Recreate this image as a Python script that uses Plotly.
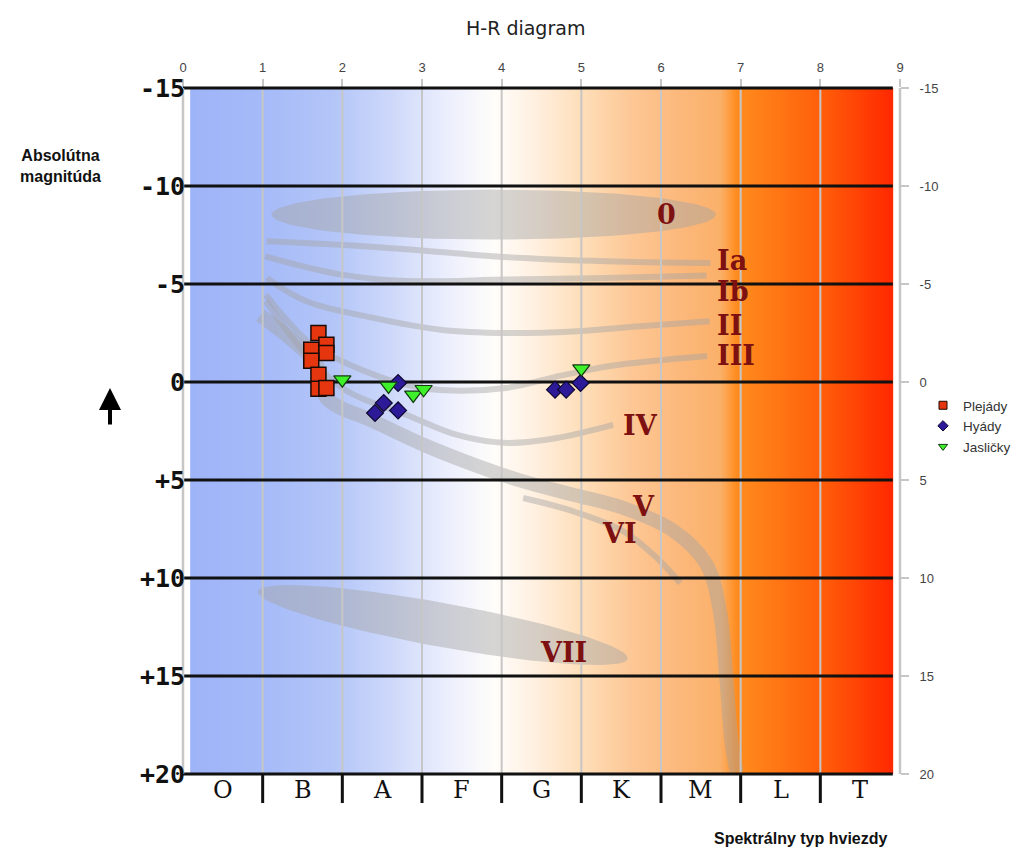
import numpy as np
import plotly.graph_objects as go

# ---------------- data ----------------
plejady_x = [1.70, 1.61, 1.80, 1.80, 1.61, 1.70, 1.70, 1.80]
plejady_y = [-2.50, -1.65, -1.90, -1.48, -1.09, -0.37, 0.34, 0.31]
hyady_x = [2.70, 2.52, 2.41, 2.70, 4.67, 4.81, 4.99]
hyady_y = [0.05, 1.07, 1.58, 1.45, 0.39, 0.39, 0.05]
jaslicky_x = [2.00, 2.58, 2.89, 3.02, 5.00]
jaslicky_y = [-0.12, 0.20, 0.66, 0.37, -0.68]

spectral_classes = ["O", "B", "A", "F", "G", "K", "M", "L", "T"]
x_tick_vals = [0, 1, 2, 3, 4, 5, 6, 7, 8, 9]
y_tick_vals = [-15, -10, -5, 0, 5, 10, 15, 20]
y_tick_text = ["-15", "-10", "-5", "0", "5", "10", "15", "20"]
y_big_text = ["-15", "-10", "-5", "0", "+5", "+10", "+15", "+20"]

# luminosity-class bands of the background drawing
lum_Ia_x = [1.05, 1.97, 2.89, 3.94, 5.32, 6.62]
lum_Ia_y = [-7.18, -7.00, -6.75, -6.40, -6.16, -6.07]
lum_Ib_x = [1.03, 1.97, 2.81, 4.06, 5.32, 6.57]
lum_Ib_y = [-6.41, -5.49, -5.15, -5.23, -5.31, -5.43]
lum_II_x = [1.05, 1.55, 2.39, 3.23, 4.06, 4.90, 5.74, 6.61]
lum_II_y = [-5.31, -4.12, -3.27, -2.67, -2.50, -2.58, -2.84, -3.10]
lum_III_x = [1.04, 1.59, 2.10, 2.72, 3.23, 4.05, 4.73, 5.36, 6.58]
lum_III_y = [-4.44, -1.99, -0.87, 0.05, 0.41, 0.31, -0.31, -0.82, -1.33]
lum_IV_x = [1.04, 1.53, 2.06, 2.81, 3.44, 4.07, 4.69, 5.40]
lum_IV_y = [-4.13, -1.48, 0.46, 1.68, 2.70, 3.11, 2.86, 2.19]
lum_V_x = [0.97, 1.34, 1.68, 1.80, 2.39, 3.02, 3.64, 4.27, 4.90, 5.53, 6.16, 6.57, 6.74, 6.82, 6.89, 6.95]
lum_V_y = [-3.40, -2.24, -0.88, 0.82, 2.00, 3.20, 4.20, 5.07, 5.75, 6.43, 7.60, 9.30, 11.70, 15.10, 18.50, 19.90]
lum_VI_x = [4.27, 4.90, 5.53, 5.95, 6.24]
lum_VI_y = [5.92, 6.60, 7.62, 8.98, 10.26]

# ellipses: centre x, centre y (data), semi-axes (px), tilt (deg)
ell_0 = dict(cx=3.90, cy=-8.54, a=222, b=25, tilt=0)
ell_VII = dict(cx=3.26, cy=12.40, a=188, b=22, tilt=10.3)

lum_labels = ["0", "Ia", "Ib", "II", "III", "IV", "V", "VI", "VII"]
lum_label_x = [5.93, 6.68, 6.68, 6.68, 6.68, 5.50, 5.61, 5.24, 4.46]
lum_label_y = [-8.57, -6.22, -4.60, -2.90, -1.33, 2.24, 6.34, 7.74, 13.78]

# background colour gradient along spectral axis
grad_pos = [0.09, 1.0, 1.9, 2.6, 3.3, 3.9, 4.4, 5.0, 5.6, 6.2, 6.75, 6.95, 8.0, 8.91]
grad_col = ["#9eb4f8", "#a5baf8", "#b4c6f8", "#cdd8fa", "#ebeefd", "#fffdfa", "#fff0e1",
            "#fedeb9", "#fdc896", "#fcb97d", "#fab069", "#ff8c1e", "#ff5f0a", "#ff2800"]

# ---------------- geometry ----------------
OFF = 8                       # page body margin
W, H = 1014, 840
ML, MR, MT, MB = 175, 122, 80, 74
PW, PH = W - ML - MR, H - MT - MB
X0, X1 = 0, 9
YTOP, YBOT = -15, 20
PX_X = PW / (X1 - X0)
PX_Y = PH / (YBOT - YTOP)


def page_x(px):
    return (px - OFF - ML) / PW


def page_y(py):
    return (PH + MT + OFF - py) / PH


fig = go.Figure()

# background gradient
gx = np.linspace(grad_pos[0], grad_pos[-1], 353)
gz = [list((gx[:-1] + gx[1:]) / 2)]
lo, hi = grad_pos[0], grad_pos[-1]
cscale = [[(p - lo) / (hi - lo), c] for p, c in zip(grad_pos, grad_col)]
fig.add_trace(go.Heatmap(x=gx, y=[YTOP, YBOT], z=gz, colorscale=cscale, zmin=lo, zmax=hi,
                         showscale=False, hoverinfo="skip", zsmooth=False))

BAND = "rgba(165,165,165,0.45)"


def ellipse(e):
    t = np.linspace(0, 2 * np.pi, 120)
    th = np.radians(e["tilt"])
    dx = e["a"] * np.cos(t) * np.cos(th) - e["b"] * np.sin(t) * np.sin(th)
    dy = e["a"] * np.cos(t) * np.sin(th) + e["b"] * np.sin(t) * np.cos(th)
    return e["cx"] + dx / PX_X, e["cy"] + dy / PX_Y


for e in (ell_0, ell_VII):
    ex, ey = ellipse(e)
    fig.add_trace(go.Scatter(x=ex, y=ey, mode="lines", fill="toself", fillcolor=BAND,
                             line=dict(width=0, color=BAND), hoverinfo="skip", showlegend=False))

for bx, by, w in [(lum_Ia_x, lum_Ia_y, 6), (lum_Ib_x, lum_Ib_y, 6), (lum_II_x, lum_II_y, 6),
                  (lum_III_x, lum_III_y, 6), (lum_IV_x, lum_IV_y, 6), (lum_V_x, lum_V_y, 14),
                  (lum_VI_x, lum_VI_y, 6)]:
    fig.add_trace(go.Scatter(x=bx, y=by, mode="lines", line=dict(color=BAND, width=w, shape="spline"),
                             hoverinfo="skip", showlegend=False))

# vertical grey grid lines
vx, vy = [], []
for v in x_tick_vals[1:-1]:
    vx += [v, v, None]
    vy += [YTOP, YBOT, None]
fig.add_trace(go.Scatter(x=vx, y=vy, mode="lines", line=dict(color="#c6c6c6", width=2),
                         hoverinfo="skip", showlegend=False))

# black horizontal lines (interior)
hx, hy = [], []
for v in y_tick_vals[1:-1]:
    hx += [X0, grad_pos[-1], None]
    hy += [v, v, None]
fig.add_trace(go.Scatter(x=hx, y=hy, mode="lines", line=dict(color="#111111", width=3),
                         hoverinfo="skip", showlegend=False))

# data series
fig.add_trace(go.Scatter(x=plejady_x, y=plejady_y, mode="markers", name="Plejády", showlegend=False,
                         marker=dict(symbol="square", size=15, color="#e5360f",
                                     line=dict(color="#1a0a05", width=1.5))))
fig.add_trace(go.Scatter(x=hyady_x, y=hyady_y, mode="markers", name="Hyády", showlegend=False,
                         marker=dict(symbol="diamond", size=13, color="#2c1a98",
                                     line=dict(color="#0d0830", width=1.2))))
fig.add_trace(go.Scatter(x=jaslicky_x, y=jaslicky_y, mode="markers", name="Jasličky", showlegend=False,
                         marker=dict(symbol="triangle-down", size=15, color="#3df02a",
                                     line=dict(color="#123a10", width=1.2))))

# legend entries (small symbols)
for nm, sym, col, lc in [("Plejády", "square", "#e5360f", "#1a0a05"),
                         ("Hyády", "diamond", "#2c1a98", "#0d0830"),
                         ("Jasličky", "triangle-down", "#3df02a", "#123a10")]:
    fig.add_trace(go.Scatter(x=[None], y=[None], mode="markers", name=nm,
                             marker=dict(symbol=sym, size=8, color=col, line=dict(color=lc, width=1))))

shapes = []
# boundary black lines (top / bottom)
for yp in (0, 1):
    shapes.append(dict(type="line", xref="paper", yref="paper", x0=0.0, x1=(grad_pos[-1] - X0) / (X1 - X0),
                       y0=yp, y1=yp, line=dict(color="#111111", width=3), layer="above"))
# left/right grey frame lines
for xp in (0, 1):
    shapes.append(dict(type="line", xref="paper", yref="paper", x0=xp, x1=xp, y0=0, y1=1,
                       line=dict(color="#c6c6c6", width=2.5), layer="above"))
# spectral class separators below the plot
for v in x_tick_vals[1:-1]:
    shapes.append(dict(type="line", xref="x", yref="paper", x0=v, x1=v, y0=0, y1=-29 / PH,
                       line=dict(color="#111111", width=3), layer="above"))

annotations = []
for i, s in enumerate(spectral_classes):
    annotations.append(dict(x=i + 0.5, y=-16 / PH, xref="x", yref="paper", text=s, showarrow=False,
                            font=dict(family="DejaVu Serif", size=24, color="#111111"),
                            xanchor="center", yanchor="middle"))
for v, t in zip(y_tick_vals, y_big_text):
    annotations.append(dict(x=4 / PW, y=v, xref="paper", yref="y", text="<b>" + t + "</b>", showarrow=False,
                            font=dict(family="DejaVu Sans Mono", size=25, color="#111111"),
                            xanchor="right", yanchor="middle"))
for t, lx, ly in zip(lum_labels, lum_label_x, lum_label_y):
    annotations.append(dict(x=lx, y=ly, xref="x", yref="y", text="<b>" + t + "</b>", showarrow=False,
                            font=dict(family="DejaVu Serif", size=27, color="#7d1010"),
                            xanchor="left", yanchor="middle"))
annotations.append(dict(x=page_x(60), y=page_y(166), xref="paper", yref="paper",
                        text="<b>Absolútna<br>magnitúda</b>", showarrow=False,
                        font=dict(family="Liberation Sans", size=16, color="#111111"),
                        xanchor="center", yanchor="middle"))
annotations.append(dict(x=page_x(800), y=page_y(838), xref="paper", yref="paper",
                        text="<b>Spektrálny typ hviezdy</b>", showarrow=False,
                        font=dict(family="Liberation Sans", size=16, color="#111111"),
                        xanchor="center", yanchor="middle"))
annotations.append(dict(x=page_x(525), y=page_y(28), xref="paper", yref="paper",
                        text="H-R diagram", showarrow=False,
                        font=dict(family="DejaVu Sans", size=19, color="#222222"),
                        xanchor="center", yanchor="middle"))
# upward arrow
annotations.append(dict(x=page_x(110), y=page_y(388), xref="paper", yref="paper",
                        text="", showarrow=True, ax=0, ay=38, arrowhead=2, arrowsize=1.1,
                        arrowwidth=4, arrowcolor="#000000"))

fig.update_layout(
    width=W, height=H,
    margin=dict(l=ML, r=MR, t=MT, b=MB, autoexpand=False),
    paper_bgcolor="white", plot_bgcolor="white",
    font=dict(family="Liberation Sans", size=12, color="#444444"),
    xaxis=dict(range=[X0, X1], side="top", tickvals=x_tick_vals, showgrid=False, zeroline=False,
               showline=False, ticks="outside", ticklen=8, tickcolor="#c6c6c6", tickwidth=2,
               ticklabelstandoff=2, tickfont=dict(size=13, color="#444444"), automargin=False),
    yaxis=dict(range=[YBOT, YTOP], side="right", tickvals=y_tick_vals, ticktext=y_tick_text,
               showgrid=False, zeroline=False, showline=False, ticks="outside", ticklen=8,
               tickcolor="#c6c6c6", tickwidth=2, ticklabelstandoff=8, automargin=False,
               tickfont=dict(size=13, color="#444444")),
    legend=dict(xref="container", yref="container",
                x=(923 - OFF) / W, y=(H + OFF - 390) / H, xanchor="left", yanchor="top",
                bgcolor="rgba(0,0,0,0)", itemwidth=30, itemsizing="trace",
                font=dict(family="Liberation Sans", size=13.5, color="#333333")),
    shapes=shapes,
    annotations=annotations,
)

fig.write_html("out.html")
